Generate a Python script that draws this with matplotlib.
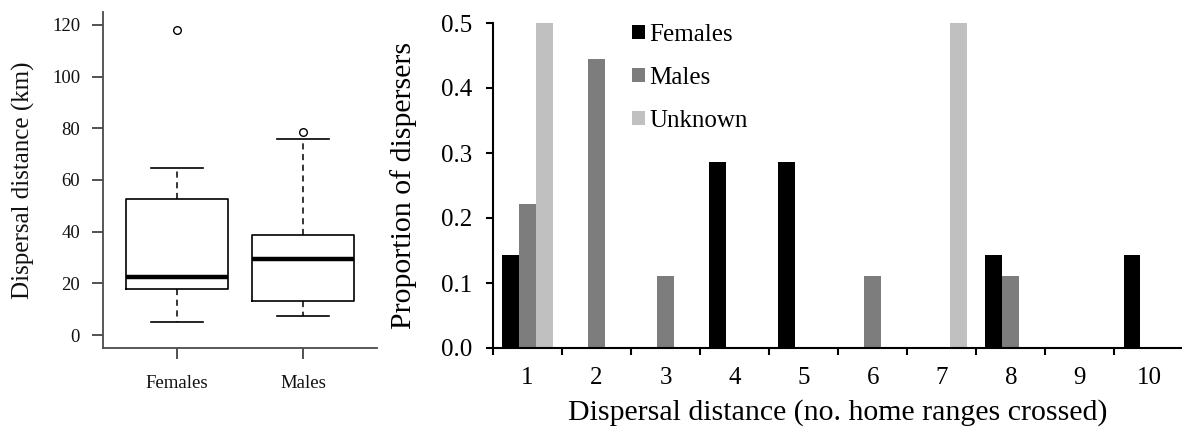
import matplotlib
matplotlib.use("Agg")
import matplotlib.pyplot as plt
from matplotlib.patches import Patch
import numpy as np

# Dispersal distance (km) summary per sex
groups = ["Females", "Males"]
whisker_low = [5.0, 7.5]
q1 = [17.7, 13.0]
median = [22.3, 29.3]
q3 = [52.8, 38.8]
whisker_high = [64.8, 76.0]
outliers = [[118.0], [78.7]]

# Proportion of dispersers by number of home ranges crossed
ranges_crossed = [1, 2, 3, 4, 5, 6, 7, 8, 9, 10]
females = [0.143, 0, 0, 0.286, 0.286, 0, 0, 0.143, 0, 0.143]
males = [0.222, 0.444, 0.111, 0, 0, 0.111, 0, 0.111, 0, 0]
unknown = [0.5, 0, 0, 0, 0, 0, 0.5, 0, 0, 0]

plt.rcParams["font.family"] = ["Liberation Serif", "DejaVu Serif"]

W, H = 1182, 433
fig = plt.figure(figsize=(W / 100, H / 100), dpi=100)


def fx(px):
    return px / W


def fy(py):
    return 1 - py / H


# ---------------- left panel: boxplot ----------------
axL = fig.add_axes([fx(103), fy(348), fx(377) - fx(103), fy(12) - fy(348)])
stats = []
for i, g in enumerate(groups):
    stats.append(dict(label=g, whislo=whisker_low[i], q1=q1[i], med=median[i],
                      q3=q3[i], whishi=whisker_high[i], fliers=outliers[i]))
axL.bxp(stats, positions=[1, 2], widths=0.81, capwidths=0.41,
        boxprops=dict(color="black", linewidth=1.2),
        medianprops=dict(color="black", linewidth=3.2, solid_capstyle="butt"),
        whiskerprops=dict(color="black", linewidth=1.1, linestyle=(0, (4, 3))),
        capprops=dict(color="black", linewidth=1.2),
        flierprops=dict(marker="o", markersize=5.5, markerfacecolor="white",
                        markeredgecolor="black", markeredgewidth=1.0))
axL.set_xlim(0.413, 2.587)
axL.set_ylim(-5.0, 125.0)
axL.set_yticks([0, 20, 40, 60, 80, 100, 120])
axL.set_xticks([1, 2])
axL.set_xticklabels(groups)
for s in ["top", "right"]:
    axL.spines[s].set_visible(False)
for s in ["left", "bottom"]:
    axL.spines[s].set_color("#4a4a4a")
    axL.spines[s].set_linewidth(1.3)
axL.tick_params(axis="both", direction="out", length=8, width=1.2, color="#333333",
                labelsize=13.5, labelcolor="#111111")
axL.tick_params(axis="y", pad=8.5)
axL.tick_params(axis="x", pad=11.5)
fig.text(fx(23), fy(180), "Dispersal distance (km)", rotation=90,
         ha="center", va="center", fontsize=18, color="#111111")

# ---------------- right panel: grouped bars ----------------
axR = fig.add_axes([fx(493), fy(348), 1.0 - fx(493), fy(23) - fy(348)])
x = np.array(ranges_crossed, dtype=float)
bw = 0.245
axR.bar(x - bw, females, width=bw, color="black", label="Females")
axR.bar(x, males, width=bw, color="#7d7d7d", label="Males")
axR.bar(x + bw, unknown, width=bw, color="#c0c0c0", label="Unknown")
axR.set_xlim(0.5, 0.5 + 689 / 69.04)
axR.set_ylim(0, 0.5)
axR.set_yticks([0.0, 0.1, 0.2, 0.3, 0.4, 0.5])
axR.set_yticklabels([f"{v:.1f}" for v in [0.0, 0.1, 0.2, 0.3, 0.4, 0.5]])
axR.set_xticks(np.arange(0.5, 10.5, 1.0))
axR.set_xticklabels([])
axR.set_xticks(x, minor=True)
axR.set_xticklabels([str(v) for v in ranges_crossed], minor=True)
for s in ["top", "right"]:
    axR.spines[s].set_visible(False)
for s in ["left", "bottom"]:
    axR.spines[s].set_color("black")
    axR.spines[s].set_linewidth(1.5)
axR.tick_params(axis="both", which="major", direction="out", length=5, width=1.5,
                labelsize=18)
axR.tick_params(axis="y", pad=10)
axR.tick_params(axis="x", which="minor", length=0, labelsize=18, pad=14)

handles = [Patch(facecolor="black"), Patch(facecolor="#7d7d7d"), Patch(facecolor="#c0c0c0")]
leg = axR.legend(handles, ["Females", "Males", "Unknown"], loc="upper left",
                 bbox_to_anchor=(fx(632), fy(24)), bbox_transform=fig.transFigure,
                 frameon=False, fontsize=18, handlelength=0.52, handleheight=0.52,
                 handletextpad=0.16, labelspacing=0.84, borderpad=0, borderaxespad=0)

fig.text(fx(404), fy(185), "Proportion of dispersers", rotation=90,
         ha="center", va="center", fontsize=21.5)
fig.text(fx(838), fy(413), "Dispersal distance (no. home ranges crossed)",
         ha="center", va="center", fontsize=21.5)

fig.savefig("out.png", dpi=100)
